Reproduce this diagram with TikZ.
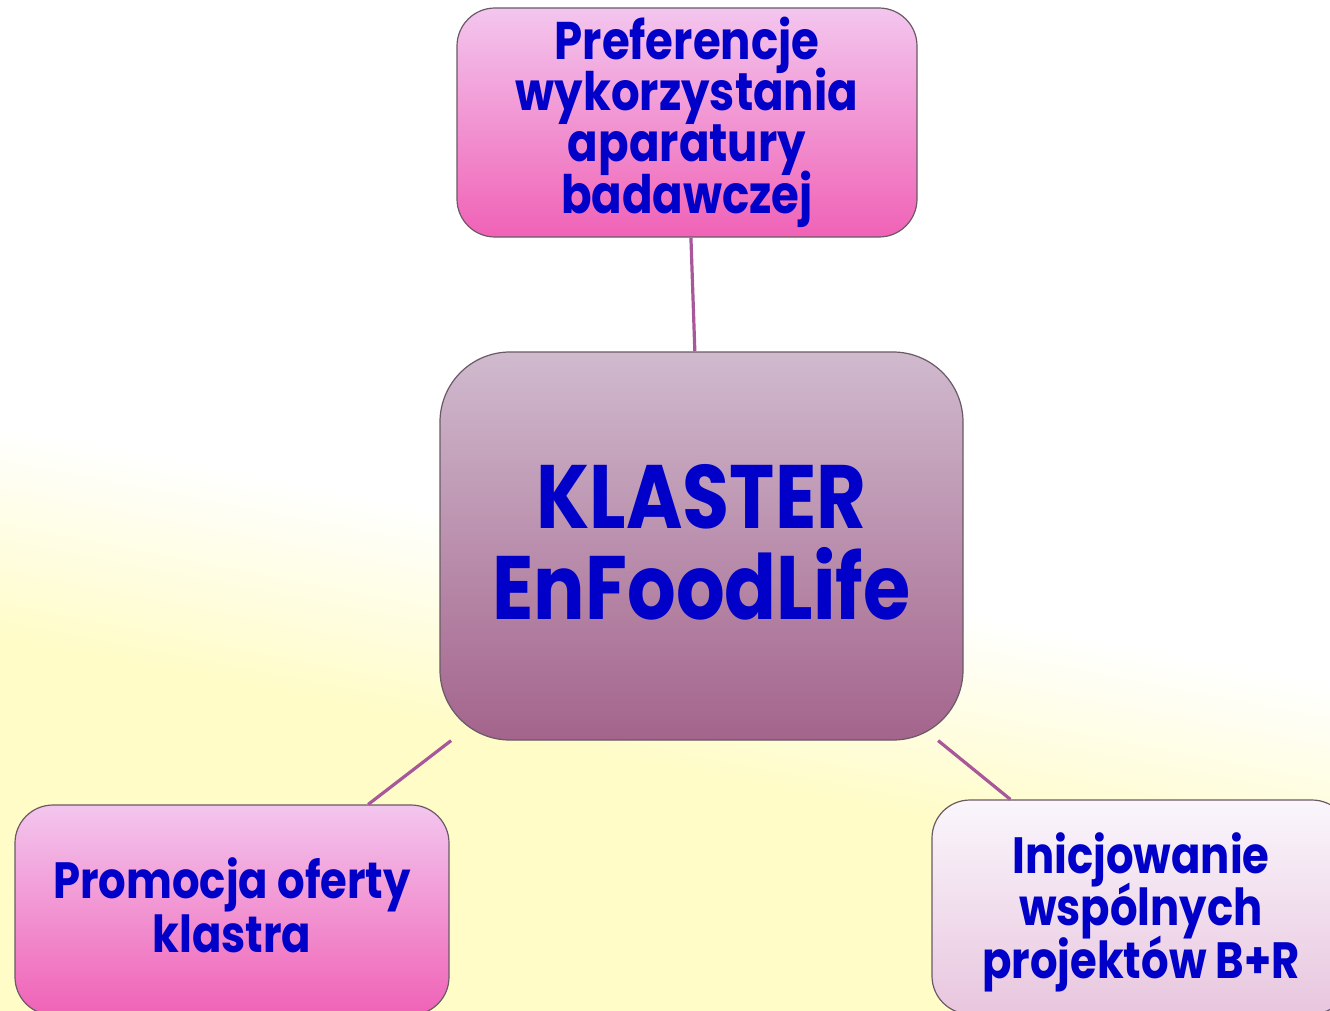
\documentclass[tikz,border=0pt]{standalone}
\usepackage{fontspec}
\setmainfont{Poppins}[FakeStretch=0.85]
\definecolor{txtblue}{HTML}{0000C8}
\definecolor{boxline}{HTML}{6A5A66}
\definecolor{linkcol}{HTML}{A8589A}
\definecolor{pinktop}{HTML}{F3C6EE}
\definecolor{pinkbot}{HTML}{F062B6}
\definecolor{mauvetop}{HTML}{D0BACE}
\definecolor{mauvebot}{HTML}{A4648C}
\definecolor{paletop}{HTML}{FAF6FC}
\definecolor{palebot}{HTML}{E8C6DE}
\definecolor{bgyellow}{HTML}{FFFCC8}
\tikzset{
  box/.style={draw=boxline, line width=1.2pt, rounded corners=38pt, inner sep=0pt,
    align=center, text=txtblue},
  pinkbox/.style={box, top color=pinktop, bottom color=pinkbot},
  link/.style={draw=linkcol, line width=3.2pt},
  bgband/.style={transform canvas={rotate around={-11:(665,660)}}},
}
\newcommand{\boxfont}[2]{\bfseries\fontsize{#1}{#2}\selectfont\lineskiplimit=-100pt}
\begin{document}
\begin{tikzpicture}[x=1pt,y=-1pt]
        \useasboundingbox (0,0) rectangle (1330,1010);
        \clip (0,0) rectangle (1330,1010);
        % background
        \fill[white] (0,0) rectangle (1330,1010);
        \shade[bgband, top color=white, bottom color=bgyellow] (-400,555) rectangle (1730,765);
        \fill[bgband, bgyellow] (-400,764) rectangle (1730,1600);
        % boxes
        \node[pinkbox, minimum width=460pt, text height=205pt, text depth=24pt,
          font=\boxfont{53}{51.3}] (pref) at (687,122.5)
          {Preferencje\\wykorzystania\\aparatury\\badawczej};
        \node[box, rounded corners=70pt, top color=mauvetop, bottom color=mauvebot,
          minimum width=523pt, text height=267pt, text depth=121pt,
          font=\boxfont{90}{91}] (klaster) at (701.5,546)
          {KLASTER\\EnFoodLife};
        \node[pinkbox, minimum width=434pt, text height=147pt, text depth=63pt,
          font=\boxfont{51}{54}] (promo) at (232,910)
          {Promocja oferty\\klastra};
        \node[box, top color=paletop, bottom color=palebot,
          minimum width=418pt, text height=178pt, text depth=36pt,
          font=\boxfont{51}{52.5}] (inic) at (1141,907)
          {Inicjowanie\\wspólnych\\projektów B+R};
        % links
        \draw[link] (klaster) -- (pref);
        \draw[link] (klaster) -- (promo);
        \draw[link] (klaster) -- (inic);
\end{tikzpicture}
\end{document}
